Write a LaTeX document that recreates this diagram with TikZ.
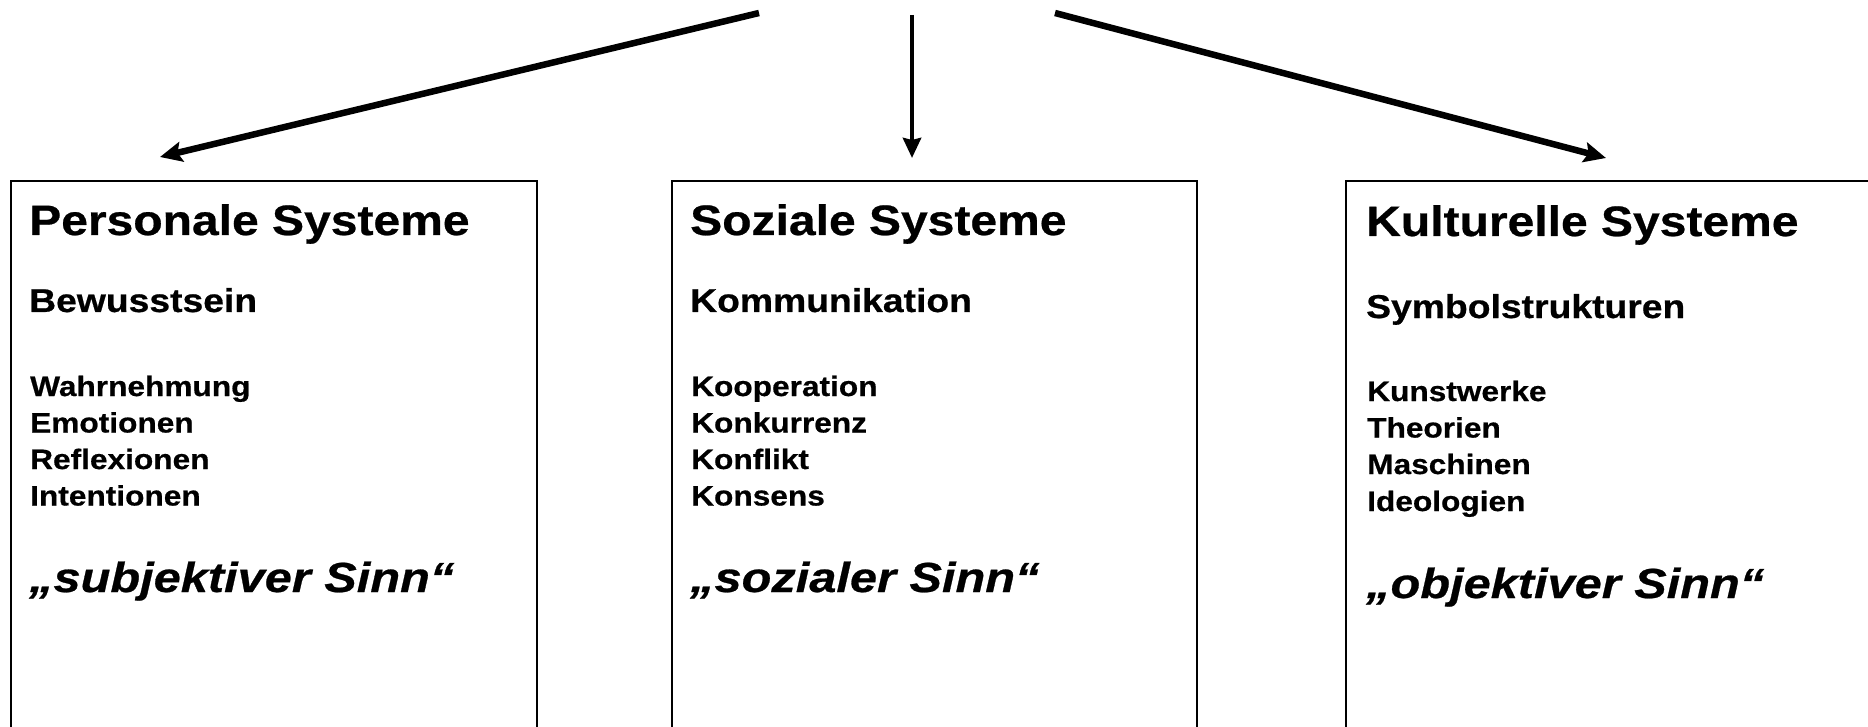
\documentclass[tikz,border=0pt]{standalone}
\usepackage{fontspec}
\newfontfamily\boldarial{Liberation Sans Bold}[FakeStretch=1.13,FakeBold=0.6]
\newfontfamily\boldital{Liberation Sans Bold Italic}[FakeStretch=1.16,FakeBold=0.6]
\usetikzlibrary{arrows.meta}
\begin{document}
\begin{tikzpicture}[x=1pt,y=-1pt,
  sysbox/.style={draw=black,line width=2pt},
  ttl/.style={anchor=base west,inner sep=0pt,font=\boldarial\fontsize{42.5}{50}\selectfont},
  subttl/.style={anchor=base west,inner sep=0pt,font=\boldarial\fontsize{33}{40}\selectfont},
  itm/.style={anchor=base west,inner sep=0pt,font=\boldarial\fontsize{28}{36}\selectfont},
  sinn/.style={anchor=base west,inner sep=0pt,font=\boldital\fontsize{42}{50}\selectfont},
  bigarrow/.style={line width=6.5pt,-{Stealth[length=22pt,width=20pt,inset=4pt]}},
  midarrow/.style={line width=4.5pt,-{Stealth[length=20pt,width=18pt,inset=2pt]}},
]
\useasboundingbox (0,0) rectangle (1868,727);
\clip (0,0) rectangle (1868,727);

% boxes
\draw[sysbox] (11,181) rectangle (537,760);
\draw[sysbox] (672,181) rectangle (1197,760);
\draw[sysbox] (1346,181) rectangle (1900,760);

% arrow ends
\coordinate (sL) at (759,13);
\coordinate (sM) at (912,15);
\coordinate (sR) at (1055,13);
\coordinate (eL) at (160,157);
\coordinate (eM) at (912,158);
\coordinate (eR) at (1606,158);
\draw[bigarrow] (sL) -- (eL);
\draw[midarrow] (sM) -- (eM);
\draw[bigarrow] (sR) -- (eR);

% box 1
\node[ttl] (t1) at (29,235) {Personale Systeme};
\node[subttl] (s1) at (29,312) {Bewusstsein};
\node[itm] (a1) at (30,396) {Wahrnehmung};
\node[itm] (b1) at (30,432.5) {Emotionen};
\node[itm] (c1) at (30,469) {Reflexionen};
\node[itm] (d1) at (30,505.5) {Intentionen};
\node[sinn] (n1) at (29,592) {„subjektiver Sinn“};

% box 2
\node[ttl] (t2) at (690,235) {Soziale Systeme};
\node[subttl] (s2) at (690,312) {Kommunikation};
\node[itm] (a2) at (691,396) {Kooperation};
\node[itm] (b2) at (691,432.5) {Konkurrenz};
\node[itm] (c2) at (691,469) {Konflikt};
\node[itm] (d2) at (691,505.5) {Konsens};
\node[sinn] (n2) at (690,592) {„sozialer Sinn“};

% box 3
\node[ttl] (t3) at (1366,236) {Kulturelle Systeme};
\node[subttl] (s3) at (1366,318) {Symbolstrukturen};
\node[itm] (a3) at (1367,401) {Kunstwerke};
\node[itm] (b3) at (1367,437.5) {Theorien};
\node[itm] (c3) at (1367,474) {Maschinen};
\node[itm] (d3) at (1367,511) {Ideologien};
\node[sinn] (n3) at (1366,598) {„objektiver Sinn“};
\end{tikzpicture}
\end{document}
